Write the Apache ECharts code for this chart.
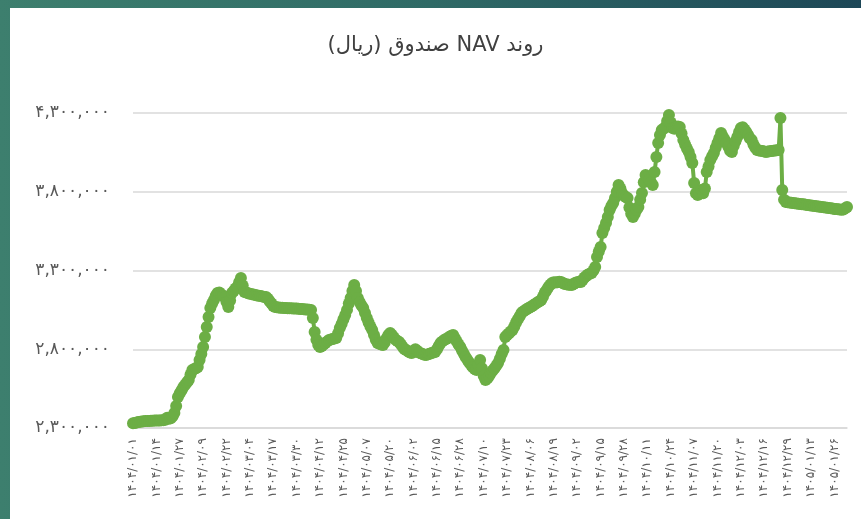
<!DOCTYPE html>
<html>
<head>
<meta charset="utf-8">
<script src="https://cdn.jsdelivr.net/npm/echarts@6/dist/echarts.min.js"></script>
<style>
  html, body { margin: 0; padding: 0; }
  body {
    width: 861px; height: 519px; overflow: hidden;
    background: linear-gradient(90deg, #3d7f6e 0%, #2f6a66 50%, #1d4757 100%);
  }
  #chart {
    position: absolute; left: 10px; top: 8px;
    width: 851px; height: 511px; background: #ffffff;
  }
</style>
</head>
<body>
<div id="chart"></div>
<script>
const titleText = 'روند NAV صندوق (ریال)';

// first day of the series and month lengths of the Persian calendar
const startYear = 1404;
const monthDays = {
  1404: [31, 31, 31, 31, 31, 31, 30, 30, 30, 30, 30, 29],
  1405: [31, 31, 31, 31, 31, 31, 30, 30, 30, 30, 30, 29],
};

// fund NAV per day, in thousand rials
const navK = [
  2330, 2332, 2335, 2338, 2340, 2342, 2343, 2344, 2345, 2345,
  2346, 2346, 2347, 2347, 2348, 2348, 2349, 2350, 2352, 2365,
  2358, 2362, 2375, 2395, 2440, 2497, 2520, 2540, 2560, 2575,
  2590, 2605, 2640, 2668, 2675, 2680, 2687, 2732, 2770, 2814,
  2878, 2941, 3005, 3062, 3090, 3113, 3140, 3157, 3160, 3150,
  3140, 3132, 3100, 3068, 3110, 3157, 3170, 3185, 3195, 3225,
  3252, 3205, 3164, 3160, 3155, 3152, 3150, 3148, 3145, 3142,
  3140, 3138, 3135, 3132, 3132, 3120, 3105, 3090, 3075, 3068,
  3066, 3065, 3064, 3063, 3062, 3062, 3061, 3060, 3060, 3059,
  3058, 3058, 3057, 3056, 3055, 3054, 3053, 3052, 3051, 3050,
  2998, 2910, 2860, 2827, 2814, 2820, 2830, 2840, 2850, 2859,
  2862, 2865, 2868, 2871, 2900, 2935, 2960, 2990, 3017, 3050,
  3090, 3125, 3170, 3208, 3170, 3125, 3100, 3080, 3062, 3030,
  2998, 2970, 2945, 2922, 2890, 2860, 2840, 2835, 2830, 2827,
  2845, 2870, 2890, 2903, 2890, 2875, 2860, 2852, 2846, 2830,
  2815, 2800, 2795, 2785, 2780, 2776, 2790, 2800, 2790, 2780,
  2775, 2770, 2765, 2763, 2768, 2772, 2776, 2780, 2783, 2800,
  2820, 2840, 2850, 2859, 2865, 2870, 2880, 2885, 2890, 2870,
  2850, 2830, 2814, 2790, 2770, 2750, 2732, 2715, 2700, 2685,
  2675, 2668, 2700, 2732, 2680, 2630, 2605, 2615, 2630, 2649,
  2665, 2680, 2695, 2713, 2740, 2770, 2795, 2878, 2890, 2900,
  2912, 2922, 2945, 2970, 2990, 3010, 3030, 3040, 3048, 3055,
  3062, 3068, 3075, 3082, 3090, 3098, 3105, 3113, 3135, 3160,
  3176, 3195, 3210, 3221, 3225, 3224, 3226, 3228, 3227, 3220,
  3215, 3212, 3210, 3209, 3208, 3215, 3222, 3226, 3228, 3227,
  3240, 3255, 3265, 3275, 3280, 3284, 3300, 3322, 3386, 3420,
  3449, 3538, 3570, 3601, 3640, 3684, 3710, 3729, 3760, 3800,
  3843, 3820, 3790, 3775, 3767, 3760, 3700, 3660, 3640, 3660,
  3685, 3703, 3750, 3792, 3860, 3906, 3890, 3875, 3860, 3843,
  3926, 4021, 4110, 4160, 4192, 4200, 4211, 4250, 4288, 4240,
  4205, 4200, 4210, 4215, 4211, 4170, 4129, 4100, 4075, 4053,
  4020, 3983, 3856, 3790, 3780, 3790, 3811, 3790, 3820, 3926,
  3960, 4002, 4025, 4046, 4080, 4110, 4140, 4173, 4150, 4130,
  4110, 4085, 4060, 4053, 4090, 4120, 4148, 4180, 4205, 4210,
  4195, 4180, 4160, 4140, 4129, 4100, 4080, 4065, 4062, 4060,
  4058, 4056, 4053, 4055, 4057, 4059, 4060, 4062, 4063, 4065,
  4268, 3811, 3750, 3735, 3733, 3731, 3730, 3728, 3727, 3725,
  3724, 3722, 3721, 3720, 3718, 3716, 3714, 3712, 3711, 3710,
  3708, 3707, 3705, 3703, 3702, 3700, 3698, 3697, 3695, 3693,
  3691, 3690, 3689, 3688, 3686, 3688, 3695, 3703,
];

const yMin = 2300000;
const yMax = 4300000;
const yStep = 500000;
const labelEvery = 13;

const faDigits = '۰۱۲۳۴۵۶۷۸۹';
function toFa(str) {
  return String(str).replace(/[0-9]/g, d => faDigits[d]);
}
function pad2(n) {
  return n < 10 ? '0' + n : '' + n;
}

// one category per calendar day
const dates = [];
let y = startYear, m = 1, d = 1;
for (let i = 0; i < navK.length; i++) {
  dates.push(toFa(y + '/' + pad2(m) + '/' + pad2(d)));
  d++;
  if (d > monthDays[y][m - 1]) {
    d = 1;
    m++;
    if (m > 12) { m = 1; y++; }
  }
}

const nav = navK.map(v => v * 1000);

const chart = echarts.init(document.getElementById('chart'), null, { renderer: 'canvas' });
chart.setOption({
  animation: false,
  textStyle: { fontFamily: 'DejaVu Sans' },
  title: {
    // right-to-left embedding so the words keep Persian order on canvas
    text: '\u202B' + titleText + '\u202C',
    left: 'center',
    top: 22,
    textStyle: { fontSize: 21, fontWeight: 'normal', color: '#404040', fontFamily: 'DejaVu Sans' },
  },
  grid: { left: 123, right: 14, top: 105, bottom: 91, containLabel: false },
  xAxis: {
    type: 'category',
    data: dates,
    boundaryGap: false,
    axisLine: { lineStyle: { color: '#d9d9d9', width: 1.5 } },
    axisTick: { show: false },
    axisLabel: {
      interval: labelEvery - 1,
      rotate: 90,
      margin: 10,
      fontSize: 12,
      color: '#595959',
    },
    splitLine: { show: false },
  },
  yAxis: {
    type: 'value',
    min: yMin,
    max: yMax,
    interval: yStep,
    axisLine: { show: false },
    axisTick: { show: false },
    axisLabel: {
      margin: 23,
      fontSize: 17,
      color: '#595959',
      formatter: v => toFa(v.toLocaleString('en-US')),
    },
    splitLine: { lineStyle: { color: '#d9d9d9', width: 1.5 } },
  },
  series: [{
    type: 'line',
    data: nav,
    showAllSymbol: true,
    symbol: 'circle',
    symbolSize: 12,
    itemStyle: { color: '#6cae45' },
    lineStyle: { color: '#6cae45', width: 4 },
  }],
});
</script>
</body>
</html>
